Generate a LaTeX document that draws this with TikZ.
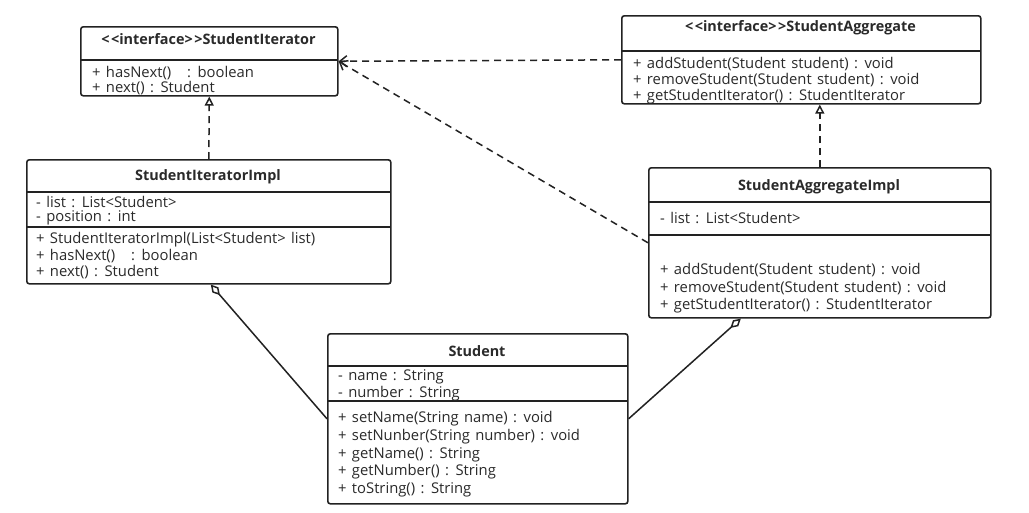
\documentclass[tikz,border=0pt]{standalone}
\usepackage{fontspec}
\setmainfont{Open Sans}[Ligatures=TeXOff]
\usetikzlibrary{arrows.meta,calc}
\definecolor{txt}{HTML}{2A2A2A}
\definecolor{ln}{HTML}{222222}
\newcommand{\ltlt}{<\kern1.5pt<}
\newcommand{\gtgt}{>\kern1.5pt>}
\newcommand{\widesp}{\spaceskip=5.3pt plus 1pt\relax}
\tikzset{
  umlbox/.style={draw=ln, line width=1.6pt, rounded corners=2.5pt, anchor=north west, inner sep=0pt},
  sepline/.style={draw=ln, line width=1.6pt},
  mem/.style={anchor=west, inner sep=0pt, text=txt, font=\fontsize{14.8}{16}\selectfont\widesp},
  ttl/.style={anchor=center, inner sep=0pt, text=txt, font=\fontsize{14.4}{16}\selectfont\bfseries},
  real/.style={draw=ln, line width=1.5pt, dash pattern=on 7pt off 5pt, -{Triangle[open,length=9pt,width=9pt]}},
  dep/.style={draw=ln, line width=1.5pt, dash pattern=on 7pt off 5pt, -{Straight Barb[length=7pt,width=11pt]}},
  aggr/.style={draw=ln, line width=1.5pt, {Diamond[open,length=14pt,width=8pt]}-},
}
\begin{document}
\begin{tikzpicture}[x=1pt,y=-1pt]
\useasboundingbox[fill=white] (0,0) rectangle (1029,512);
% StudentIterator
\node[umlbox, minimum width=257pt, minimum height=69pt] (si) at (80,26) {};
\draw[sepline] (80,60) -- (337,60);
\node[ttl] (sit) at (208.5,39) {\ltlt interface\gtgt StudentIterator};
\node[mem] (si1) at (92,73) {+ hasNext() \ \ : boolean};
\node[mem] (si2) at (92,88) {+ next() : Student};
% StudentAggregate
\node[umlbox, minimum width=359pt, minimum height=88pt] (sa) at (621,15) {};
\draw[sepline] (621,51) -- (980,51);
\node[ttl] (sat) at (800.5,28) {\ltlt interface\gtgt StudentAggregate};
\node[mem] (sa1) at (633,64) {+ addStudent(Student student) : void};
\node[mem] (sa2) at (633,80) {+ removeStudent(Student student) : void};
\node[mem] (sa3) at (633,97) {+ getStudentIterator() : StudentIterator};
% StudentIteratorImpl
\node[umlbox, minimum width=364pt, minimum height=124pt] (sii) at (26,159) {};
\draw[sepline] (26,192) -- (390,192);
\draw[sepline] (26,227) -- (390,227);
\node[ttl] (siit) at (208,177) {StudentIteratorImpl};
\node[mem] (sii1) at (36,202) {- list : List<Student>};
\node[mem] (sii2) at (36,218) {- position : int};
\node[mem] (sii3) at (36,240) {+ StudentIteratorImpl(List<Student> list)};
\node[mem] (sii4) at (36,256) {+ hasNext() \ \ : boolean};
\node[mem] (sii5) at (36,272) {+ next() : Student};
% StudentAggregateImpl
\node[umlbox, minimum width=342pt, minimum height=150pt] (sai) at (648,167) {};
\draw[sepline] (648,202) -- (990,202);
\draw[sepline] (648,235) -- (990,235);
\node[ttl] (sait) at (819,187) {StudentAggregateImpl};
\node[mem] (sai1) at (660,218) {- list : List<Student>};
\node[mem] (sai2) at (660,270) {+ addStudent(Student student) : void};
\node[mem] (sai3) at (660,288) {+ removeStudent(Student student) : void};
\node[mem] (sai4) at (660,306) {+ getStudentIterator() : StudentIterator};
% Student
\node[umlbox, minimum width=300pt, minimum height=170pt] (st) at (327,333) {};
\draw[sepline] (327,366) -- (627,366);
\draw[sepline] (327,401) -- (627,401);
\node[ttl] (stt) at (477,351) {Student};
\node[mem] (st1) at (338,377) {- name : String};
\node[mem] (st2) at (338,394) {- number : String};
\node[mem] (st3) at (338,419) {+ setName(String name) : void};
\node[mem] (st4) at (338,437) {+ setNunber(String number) : void};
\node[mem] (st5) at (338,455) {+ getName() : String};
\node[mem] (st6) at (338,472) {+ getNumber() : String};
\node[mem] (st7) at (338,490) {+ toString() : String};
% connectors
\draw[real] (sii.north) -- (si.south);
\draw[real] (sai.north) -- (sai.north |- sa.south);
\draw[dep] (sa.west) -- (si.east);
\draw[dep] (sai.west) -- (si.east);
\draw[aggr] ([xshift=2pt]sii.south) -- (st.west);
\draw[aggr] ([xshift=-79pt]sai.south) -- (st.east);
\end{tikzpicture}
\end{document}
